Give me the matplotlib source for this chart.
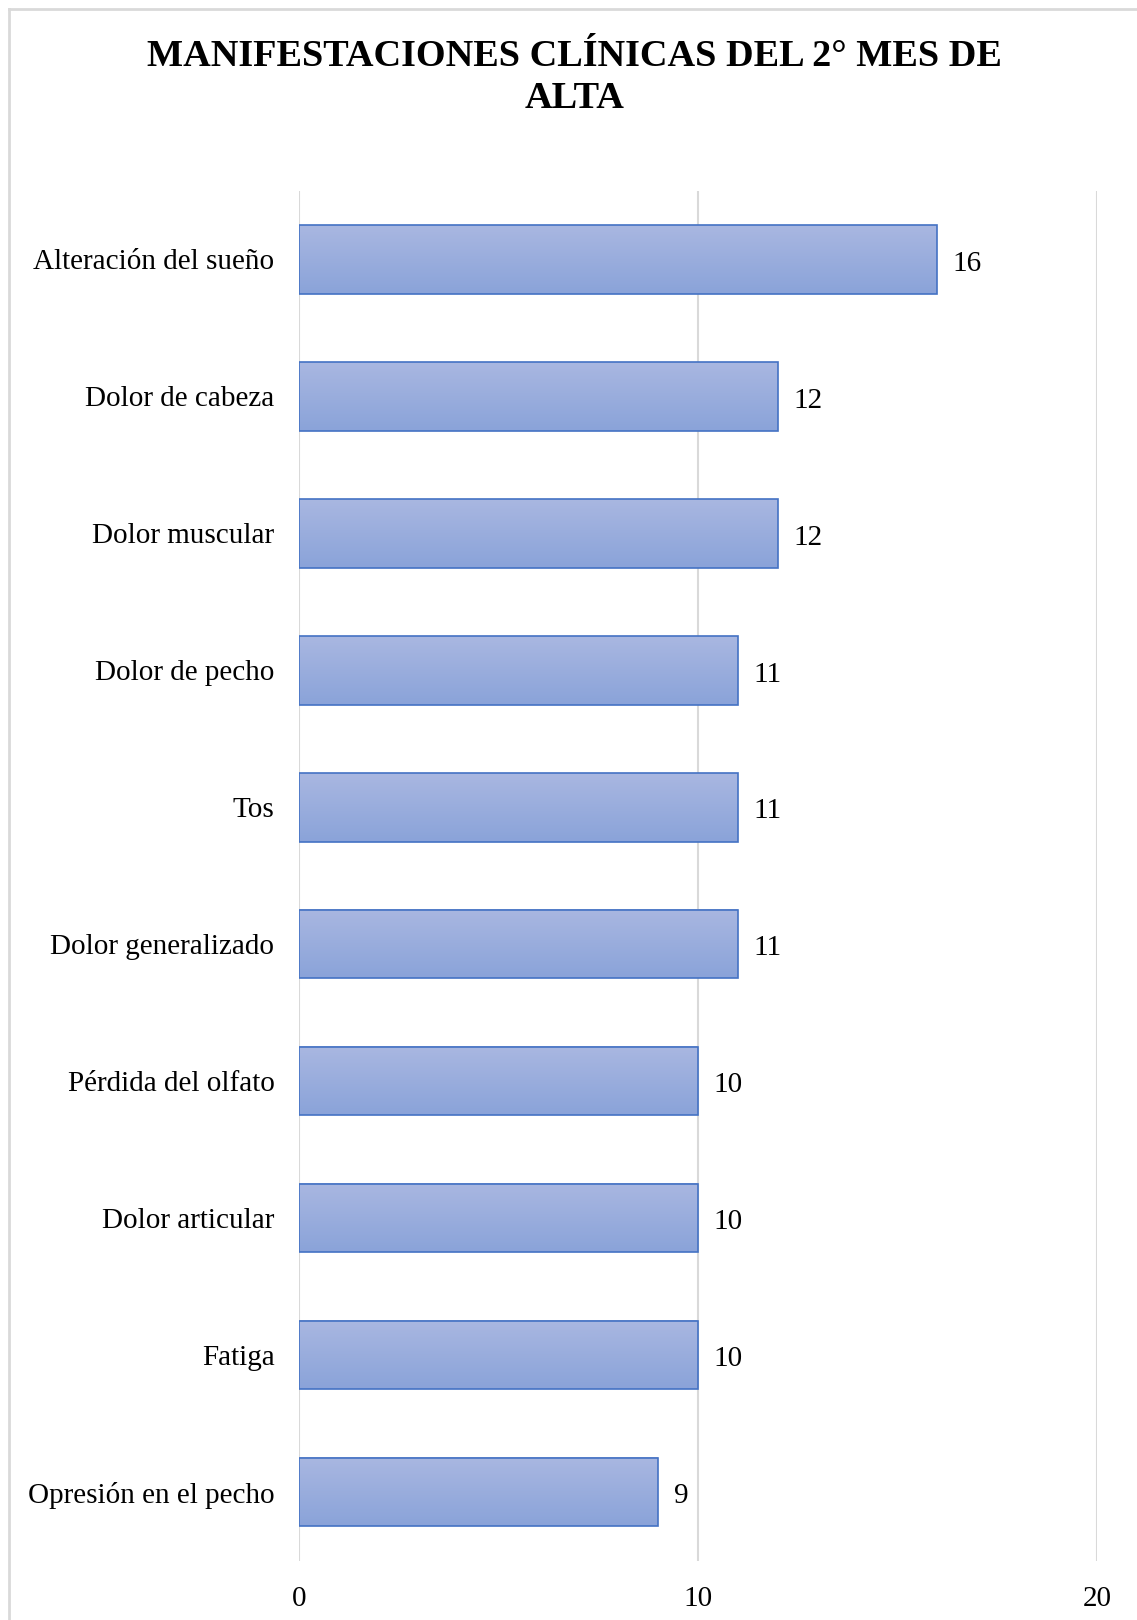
import numpy as np
import matplotlib.pyplot as plt
from matplotlib.colors import LinearSegmentedColormap
from matplotlib.lines import Line2D

# Manifestaciones clínicas reportadas en el 2° mes de alta
categorias = ["Alteración del sueño", "Dolor de cabeza", "Dolor muscular",
              "Dolor de pecho", "Tos", "Dolor generalizado",
              "Pérdida del olfato", "Dolor articular", "Fatiga",
              "Opresión en el pecho"]
valores = [16, 12, 12, 11, 11, 11, 10, 10, 10, 9]
ticks_x = [0, 10, 20]

plt.rcParams['font.family'] = ['Liberation Serif', 'DejaVu Serif']

fig = plt.figure(figsize=(11.37, 16.20), dpi=100)
ax = fig.add_axes([0.2634, 0.0367, 0.7014, 0.8454])

pos = np.arange(len(categorias))
barras = ax.barh(pos, valores, height=0.5, facecolor='none',
                 edgecolor='#4472C4', linewidth=1.2, zorder=3)

# relleno degradado dentro de cada barra
degradado = LinearSegmentedColormap.from_list('azul', ['#A9B7E1', '#8AA3D9'])
grad = np.linspace(0, 1, 256).reshape(-1, 1)
for b in barras:
    x0, y0 = b.get_x(), b.get_y()
    w, h = b.get_width(), b.get_height()
    ax.imshow(grad, cmap=degradado, aspect='auto',
              extent=[x0, x0 + w, y0 + h, y0], zorder=2,
              interpolation='bilinear')

for p, v in zip(pos, valores):
    ax.annotate(str(v), (v, p), xytext=(11, -3), textcoords='offset points',
                va='center', ha='left', fontsize=21, color='#000000')

ax.set_xlim(0, 20)
ax.set_ylim(len(categorias) - 0.5, -0.5)
ax.set_xticks(ticks_x)
ax.set_yticks(pos)
ax.set_yticklabels(categorias, fontsize=21)
ax.tick_params(axis='x', labelsize=21, length=0, pad=18)
ax.tick_params(axis='y', length=0, pad=18)
ax.grid(axis='x', color='#D9D9D9', linewidth=1.5, zorder=0)
ax.set_axisbelow(True)
for s in ax.spines.values():
    s.set_visible(False)

fig.text(0.505, 0.976, "MANIFESTACIONES CLÍNICAS DEL 2° MES DE\nALTA",
         ha='center', va='top', fontsize=27.5, fontweight='bold',
         linespacing=1.27)

# marco exterior del gráfico
fig.add_artist(Line2D([0.0075, 0.0075], [0, 0.9945], color='#D9D9D9',
                      linewidth=2, transform=fig.transFigure))
fig.add_artist(Line2D([0.0075, 1], [0.9945, 0.9945], color='#D9D9D9',
                      linewidth=2, transform=fig.transFigure))

fig.savefig('out.png', dpi=100)
